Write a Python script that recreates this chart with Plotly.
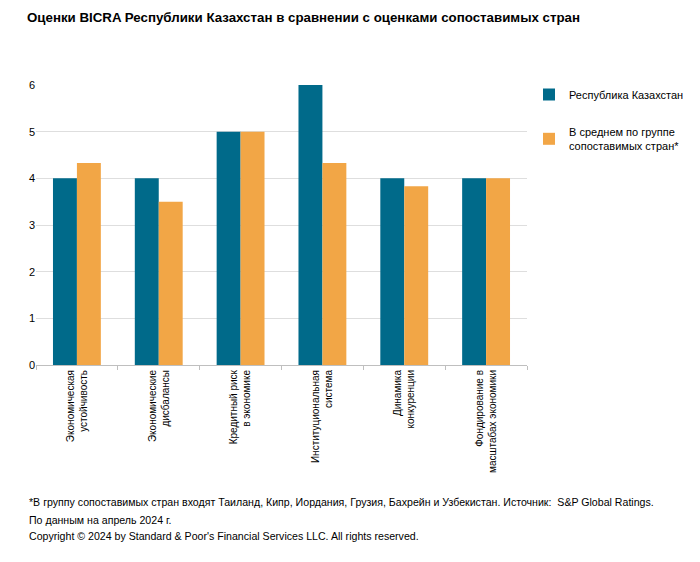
import plotly.graph_objects as go

categories = [
    "Экономическая<br>устойчивость",
    "Экономические<br>дисбалансы",
    "Кредитный риск<br>в экономике",
    "Институциональная<br>система",
    "Динамика<br>конкуренции",
    "Фондирование в<br>масштабах экономики",
]
kazakhstan = [4, 4, 5, 6, 4, 4]
peers = [4.33, 3.5, 5, 4.33, 3.83, 4]
series_names = ["Республика Казахстан", "В среднем по группе<br>сопоставимых стран*"]
y_ticks = [0, 1, 2, 3, 4, 5, 6]

footnotes = [
    "*В группу сопоставимых стран входят Таиланд, Кипр, Иордания, Грузия, Бахрейн и Узбекистан. Источник:  S&P Global Ratings.",
    "По данным на апрель 2024 г.",
    "Copyright © 2024 by Standard & Poor's Financial Services LLC. All rights reserved.",
]

W, H = 700, 562
L, R, T, B = 36, 173, 85, 197
plot_h = H - T - B
plot_w = W - L - R

BLUE = "#006a8a"
ORANGE = "#f2a646"
FONT = "Liberation Sans, Arial, sans-serif"

fig = go.Figure()
fig.add_trace(go.Bar(x=categories, y=kazakhstan, name=series_names[0],
                     marker=dict(color=BLUE, line=dict(width=0)), legendgroup="a"))
fig.add_trace(go.Bar(x=categories, y=peers, name=series_names[1],
                     marker=dict(color=ORANGE, line=dict(width=0)), legendgroup="b"))

def py(px):
    return (H - B - px) / plot_h

annotations = []
for txt, ypx in zip(footnotes, [502, 520, 536]):
    annotations.append(dict(text=txt, xref="paper", yref="paper",
                            x=(27 - L) / plot_w, y=py(ypx),
                            xanchor="left", yanchor="middle", showarrow=False,
                            font=dict(size=10.6, color="#000000", family=FONT)))

fig.update_layout(
    width=W, height=H,
    margin=dict(l=L, r=R, t=T, b=B, autoexpand=False),
    paper_bgcolor="white", plot_bgcolor="white",
    barmode="group", bargap=0.415, bargroupgap=0,
    font=dict(family=FONT, size=11, color="#000000"),
    title=dict(text="<b>Оценки BICRA Республики Казахстан в сравнении с оценками сопоставимых стран</b>",
               xref="container", yref="container", x=27 / W, y=1 - 17 / H,
               xanchor="left", yanchor="middle", automargin=False,
               font=dict(size=13.3, family=FONT, color="#000000")),
    legend=dict(x=(529 - L) / plot_w, y=1 + 5 / plot_h, xanchor="left", yanchor="top",
                font=dict(size=11, family=FONT, color="#000000"),
                tracegroupgap=19, traceorder="grouped", bgcolor="rgba(0,0,0,0)"),
    annotations=annotations,
    xaxis=dict(showline=True, linecolor="#bfbfbf", linewidth=1, automargin=False,
               ticks="outside", tickson="boundaries", ticklen=4, tickcolor="#bfbfbf",
               tickangle=-90, tickfont=dict(size=10, family=FONT, color="#000000"),
               showgrid=False),
    yaxis=dict(range=[0, 6], tickvals=y_ticks, showgrid=True, gridcolor="#dedede",
               gridwidth=1, zeroline=False, showline=False, ticks="", automargin=False,
               tickfont=dict(size=11, family=FONT, color="#000000")),
)

fig.write_html("out.html", config={"displayModeBar": False},
               post_script="document.body.style.margin='0';document.body.style.padding='0';")
